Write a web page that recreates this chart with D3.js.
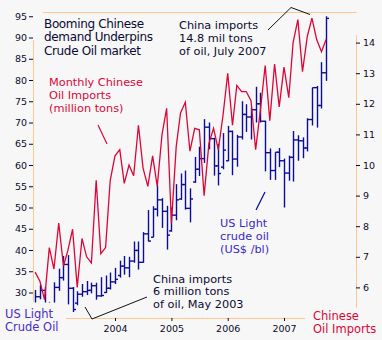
<!DOCTYPE html>
<html><head><meta charset="utf-8">
<script src="https://cdn.jsdelivr.net/npm/d3@7"></script>
<style>
html,body{margin:0;padding:0;background:#f7f7f7;}
svg{display:block;font-family:"DejaVu Sans",Verdana,sans-serif;}
</style></head><body>
<svg id="chart" width="382" height="340"></svg>
<script>
// ---- data ----
const months = ["2002-08","2002-09","2002-10","2002-11","2002-12",
"2003-01","2003-02","2003-03","2003-04","2003-05","2003-06","2003-07","2003-08","2003-09","2003-10","2003-11","2003-12",
"2004-01","2004-02","2004-03","2004-04","2004-05","2004-06","2004-07","2004-08","2004-09","2004-10","2004-11","2004-12",
"2005-01","2005-02","2005-03","2005-04","2005-05","2005-06","2005-07","2005-08","2005-09","2005-10","2005-11","2005-12",
"2006-01","2006-02","2006-03","2006-04","2006-05","2006-06","2006-07","2006-08","2006-09","2006-10","2006-11","2006-12",
"2007-01","2007-02","2007-03","2007-04","2007-05","2007-06","2007-07","2007-08","2007-09","2007-10"];

// Chinese monthly crude oil imports (million tons)
const chinaImports = [6.5,6.2,5.6,7.3,6.6,
8.1,6.7,7.2,7.9,6.0,7.6,7.0,6.8,9.5,7.1,7.3,9.5,
10.3,10.5,9.4,10.0,9.65,11.3,9.9,9.3,10.3,9.3,11.0,11.85,
8.1,10.6,11.7,12.05,10.45,11.2,11.15,9.0,10.7,11.2,10.5,11.6,
13.0,11.3,12.6,12.4,12.4,12.1,10.5,11.8,13.25,11.45,13.3,11.9,
13.2,12.2,14.0,14.75,13.05,14.2,14.8,14.1,13.7,14.1];

// US Light crude oil monthly OHLC (US$/bl)
const oilOpen = [27.0,29.0,30.5,27.2,26.9,
31.2,33.5,36.6,31.0,27.5,29.6,30.2,30.5,31.6,29.2,30.0,31.0,
32.5,34.0,36.2,35.8,37.4,39.9,37.1,43.8,43.0,49.6,51.8,49.1,
44.5,48.2,52.0,55.4,49.8,56.0,59.0,61.5,68.9,66.2,59.8,59.5,
61.0,67.9,61.4,66.6,71.9,71.3,73.0,74.4,70.3,62.9,58.7,63.0,
61.0,58.1,61.8,65.9,65.7,64.0,70.7,78.2,74.0,81.7];
const oilHigh = [30.6,31.8,31.3,27.8,32.4,
35.6,38.6,38.8,31.3,30.3,32.0,32.7,32.3,32.3,33.6,34.0,34.7,
35.8,37.5,38.6,38.4,42.0,42.0,44.2,49.4,50.3,55.2,52.2,50.4,
50.0,55.5,58.0,58.7,54.5,61.9,64.3,70.8,70.0,66.4,65.0,67.5,
69.2,68.1,67.1,75.0,74.3,73.5,78.4,77.0,70.4,63.9,63.0,64.0,
61.5,62.2,68.0,67.0,66.5,71.0,78.2,78.6,84.2,95.0];
const oilLow = [26.6,28.4,27.0,25.2,26.3,
30.4,32.8,27.2,25.4,27.0,29.0,29.4,29.8,28.3,29.0,29.9,30.7,
32.0,33.5,34.2,33.6,37.0,35.4,37.0,42.0,43.0,47.9,45.2,40.1,
44.3,47.0,51.8,49.5,46.5,55.8,57.4,60.5,63.7,57.5,55.2,59.0,
60.9,57.6,59.6,66.0,67.8,66.0,70.0,70.0,58.5,56.5,56.5,59.5,
50.0,56.3,56.1,61.0,61.6,63.2,69.3,68.8,73.3,79.8];
const oilClose = [29.0,30.5,27.3,26.9,31.2,
33.5,36.6,31.0,26.0,29.6,30.2,30.5,31.6,29.2,29.3,31.0,32.5,
33.1,36.2,35.8,37.4,39.9,37.1,43.8,42.1,49.6,51.8,49.1,43.5,
48.2,51.8,55.4,49.8,52.0,59.0,61.5,68.9,66.2,59.8,58.0,63.5,
67.9,61.4,66.6,71.9,71.3,73.0,74.4,70.3,62.9,58.7,63.0,61.0,
58.1,61.8,65.9,65.7,64.0,70.7,78.2,74.0,81.7,94.5];

const leftTicks = [30,35,40,45,50,55,60,65,70,75,80,85,90,95];
const rightTicks = [6,7,8,9,10,11,12,13,14];
const yearTicks = ["2004","2005","2006","2007"];

// ---- chart ----
const svg = d3.select("#chart");
const parse = d3.timeParse("%Y-%m");
const fmtYear = d3.timeParse("%Y");
const dates = months.map(parse);

const x = d3.scaleTime().domain([fmtYear("2004"), fmtYear("2007")]).range([115, 284]);
const yL = d3.scaleLinear().domain([24, 96]).range([318, 12]);
const yR = d3.scaleLinear().domain([5, 15]).range([318, 12]);

const frame = "#fcc790";
const red = "#dc0638";
const blue = "#0c0c9c";
const dark = "#0a0a2a";

svg.append("rect").attr("width",382).attr("height",340).attr("fill","#f7f7f7");

// frame segments
const fg = svg.append("g").attr("stroke", frame).attr("stroke-width",1).attr("fill","none");
fg.append("line").attr("x1",43).attr("x2",356.5).attr("y1",12.5).attr("y2",12.5);
fg.append("line").attr("x1",33.5).attr("x2",33.5).attr("y1",40).attr("y2",302);
fg.append("line").attr("x1",66).attr("x2",305).attr("y1",318.5).attr("y2",318.5);
fg.append("line").attr("x1",356.5).attr("x2",356.5).attr("y1",35).attr("y2",308);

// OHLC bars
const bars = svg.append("g").attr("stroke", blue).attr("stroke-width",1.4);
dates.forEach((d,i) => {
  const cx = Math.round(x(d)) + 0.5;
  const g = bars.append("g");
  g.append("line").attr("x1",cx).attr("x2",cx).attr("y1",yL(oilHigh[i])).attr("y2",yL(oilLow[i]));
  g.append("line").attr("x1",cx-2.5).attr("x2",cx).attr("y1",yL(oilOpen[i])).attr("y2",yL(oilOpen[i]));
  g.append("line").attr("x1",cx).attr("x2",cx+2.5).attr("y1",yL(oilClose[i])).attr("y2",yL(oilClose[i]));
});

// red import line
const line = d3.line().x((d,i)=>x(dates[i])).y(d=>yR(d));
svg.append("path").datum(chinaImports).attr("d", line)
  .attr("fill","none").attr("stroke", red).attr("stroke-width",1.3).attr("stroke-linejoin","miter");

// label background boxes (cover data like the original)
svg.append("rect").attr("x",0).attr("y",302.5).attr("width",66).attr("height",38).attr("fill","#f7f7f7");
svg.append("rect").attr("x",305).attr("y",308.5).attr("width",77).attr("height",32).attr("fill","#f7f7f7");

// axes
const axL = d3.axisLeft(yL).tickValues(leftTicks).tickSize(4).tickPadding(2);
const gL = svg.append("g").attr("transform","translate(33,0)").call(axL);
const axR = d3.axisRight(yR).tickValues(rightTicks).tickSize(4).tickPadding(3);
const gR = svg.append("g").attr("transform","translate(356,0)").call(axR);
const axB = d3.axisBottom(x).tickValues(yearTicks.map(fmtYear)).tickFormat(d3.timeFormat("%Y")).tickSize(3).tickPadding(4);
const gB = svg.append("g").attr("transform","translate(0,318)").call(axB);
[gL,gR,gB].forEach(g => {
  g.select(".domain").remove();
  g.selectAll("line").attr("stroke", dark).attr("stroke-width",1);
  g.selectAll("text").attr("fill", dark).style("font-size","9.5px").attr("font-family","DejaVu Sans, sans-serif");
});

// texts
function block(lines, xPos, y0, dy, color, size, spacing) {
  const t = svg.append("text").attr("fill", color).style("font-size", size+"px")
     .style("letter-spacing", (spacing||0)+"px");
  lines.forEach((s,i) => t.append("tspan").attr("x", xPos).attr("y", y0 + i*dy).text(s));
}
block(["Booming Chinese","demand Underpins","Crude Oil market"], 44, 27.5, 13.5, "#0a0a33", 12, -0.35);
block(["Monthly Chinese","Oil Imports","(million tons)"], 49, 86, 12.8, red, 11.3);
block(["China imports","14.8 mil tons","of oil, July 2007"], 179, 28.5, 13.2, "#0a0a33", 11.3);
block(["China imports","6 million tons","of oil, May 2003"], 153, 282.5, 12.5, "#0a0a33", 11.3);
block(["US Light","crude oil","(US$ /bl)"], 220, 226.5, 13, "#3a28c8", 11.3);
block(["US Light","Crude Oil"], 5, 318, 12.7, "#4a2cc8", 11.5);
block(["Chinese","Oil Imports"], 313, 320, 13, red, 11.5);

// pointer lines
svg.append("polyline").attr("points","85,307 92,319 147,297").attr("fill","none").attr("stroke","#111").attr("stroke-width",1);
svg.append("polyline").attr("points","268,30 291,7.5 310,14.5").attr("fill","none").attr("stroke","#111").attr("stroke-width",1);
svg.append("line").attr("x1",98).attr("y1",125).attr("x2",107).attr("y2",144).attr("stroke",red).attr("stroke-width",1.2);
svg.append("line").attr("x1",256).attr("y1",210).attr("x2",265).attr("y2",192).attr("stroke",blue).attr("stroke-width",1.2);
</script>
</body></html>
